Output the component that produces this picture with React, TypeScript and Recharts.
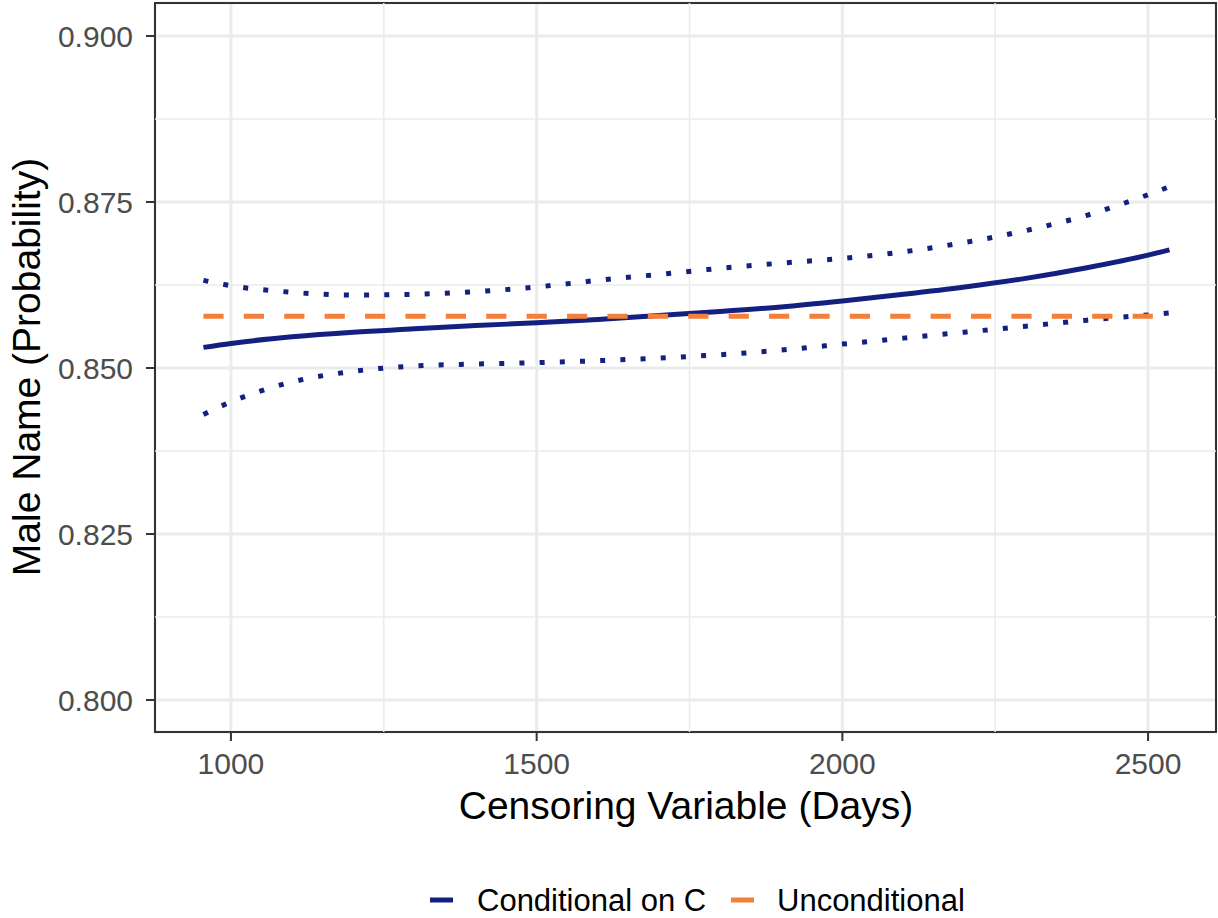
import React from 'react';
import { LineChart, Line, XAxis, YAxis, CartesianGrid, ReferenceLine, ReferenceArea } from 'recharts';

const censoringDays = [955, 1000, 1100, 1200, 1300, 1400, 1500, 1600, 1700, 1800, 1900, 2000, 2100, 2200, 2300, 2400, 2500, 2535];
const conditionalOnC = [0.8531, 0.8537, 0.8547, 0.8554, 0.8559, 0.8564, 0.8568, 0.8573, 0.8579, 0.8585, 0.8592, 0.8601, 0.8611, 0.8622, 0.8635, 0.8651, 0.8670, 0.8678];
const upperBand = [0.8632, 0.8624, 0.8614, 0.8610, 0.8611, 0.8615, 0.8622, 0.8632, 0.8641, 0.8650, 0.8658, 0.8665, 0.8675, 0.8689, 0.8707, 0.8730, 0.8761, 0.8773];
const lowerBand = [0.8430, 0.8449, 0.8479, 0.8495, 0.8503, 0.8506, 0.8508, 0.8511, 0.8515, 0.8520, 0.8527, 0.8536, 0.8545, 0.8554, 0.8563, 0.8572, 0.8580, 0.8583];
const unconditional = [0.8578, 0.8578, 0.8578, 0.8578, 0.8578, 0.8578, 0.8578, 0.8578, 0.8578, 0.8578, 0.8578, 0.8578, 0.8578, 0.8578, 0.8578, 0.8578, 0.8578, 0.8578];

const xTicks = [1000, 1500, 2000, 2500];
const xMinorTicks = [1250, 1750, 2250];
const yTicks = [0.8, 0.825, 0.85, 0.875, 0.9];
const yMinorTicks = [0.8125, 0.8375, 0.8625, 0.8875];

const X_DOMAIN: [number, number] = [875.8, 2611.1];
const Y_DOMAIN: [number, number] = [0.79518, 0.90497];

const NAVY = '#13207f';
const ORANGE = '#f47f3a';
const FONT = '"Liberation Sans", Arial, Helvetica, sans-serif';

const data = censoringDays.map((d, i) => ({
  days: d,
  cond: conditionalOnC[i],
  upper: upperBand[i],
  lower: lowerBand[i],
  uncond: unconditional[i],
}));

export default function App() {
  return (
    <div style={{ position: 'absolute', left: 0, top: 0, width: 1218, height: 918, background: '#fff', fontFamily: FONT }}>
      <LineChart
        width={1218}
        height={918}
        data={data}
        margin={{ top: 3, right: 2, bottom: 76, left: 0 }}
        style={{ fontFamily: FONT }}
      >
        <CartesianGrid stroke="#ebebeb" strokeWidth={3} />
        {xMinorTicks.map((v) => (
          <ReferenceLine key={'xm' + v} x={v} stroke="#ebebeb" strokeWidth={1.5} />
        ))}
        {yMinorTicks.map((v) => (
          <ReferenceLine key={'ym' + v} y={v} stroke="#ebebeb" strokeWidth={1.5} />
        ))}
        <XAxis
          dataKey="days"
          type="number"
          domain={X_DOMAIN}
          ticks={xTicks}
          allowDataOverflow
          height={110}
          axisLine={false}
          tickLine={{ stroke: '#333333', strokeWidth: 2 }}
          tickSize={9}
          tickMargin={12}
          tick={{ fill: '#4d4d4d', fontSize: 30, fontFamily: FONT }}
        />
        <YAxis
          type="number"
          domain={Y_DOMAIN}
          ticks={yTicks}
          allowDataOverflow
          width={155}
          axisLine={false}
          tickLine={{ stroke: '#333333', strokeWidth: 2 }}
          tickSize={9}
          tickMargin={13}
          tickFormatter={(v: number) => v.toFixed(3)}
          tick={{ fill: '#4d4d4d', fontSize: 30, fontFamily: FONT }}
        />
        <Line type="monotone" dataKey="upper" stroke={NAVY} strokeWidth={5} strokeDasharray="5 15.2" dot={false} isAnimationActive={false} />
        <Line type="monotone" dataKey="lower" stroke={NAVY} strokeWidth={5} strokeDasharray="5 15.2" dot={false} isAnimationActive={false} />
        <Line type="monotone" dataKey="cond" name="Conditional on C" stroke={NAVY} strokeWidth={5} dot={false} isAnimationActive={false} />
        <Line type="monotone" dataKey="uncond" name="Unconditional" stroke={ORANGE} strokeWidth={5} strokeDasharray="20.2 20.2" dot={false} isAnimationActive={false} />
        <ReferenceArea
          x1={X_DOMAIN[0]}
          x2={X_DOMAIN[1]}
          y1={Y_DOMAIN[0]}
          y2={Y_DOMAIN[1]}
          fill="none"
          fillOpacity={0}
          stroke="#333333"
          strokeWidth={2}
        />
      </LineChart>
      <svg
        width={1218}
        height={918}
        style={{ position: 'absolute', left: 0, top: 0, pointerEvents: 'none' }}
      >
        <text x={686} y={819} textAnchor="middle" fontSize={39} fill="#000" fontFamily={FONT}>
          Censoring Variable (Days)
        </text>
        <text
          transform="translate(40,367) rotate(-90)"
          x={0}
          y={0}
          textAnchor="middle"
          fontSize={39}
          fill="#000"
          fontFamily={FONT}
        >
          Male Name (Probability)
        </text>
        <line x1={430} x2={453} y1={900} y2={900} stroke={NAVY} strokeWidth={5} />
        <text x={477} y={911} fontSize={31} fill="#000" fontFamily={FONT}>
          Conditional on C
        </text>
        <line x1={731} x2={754} y1={900} y2={900} stroke={ORANGE} strokeWidth={5} />
        <text x={777} y={911} fontSize={31} fill="#000" fontFamily={FONT}>
          Unconditional
        </text>
      </svg>
    </div>
  );
}
